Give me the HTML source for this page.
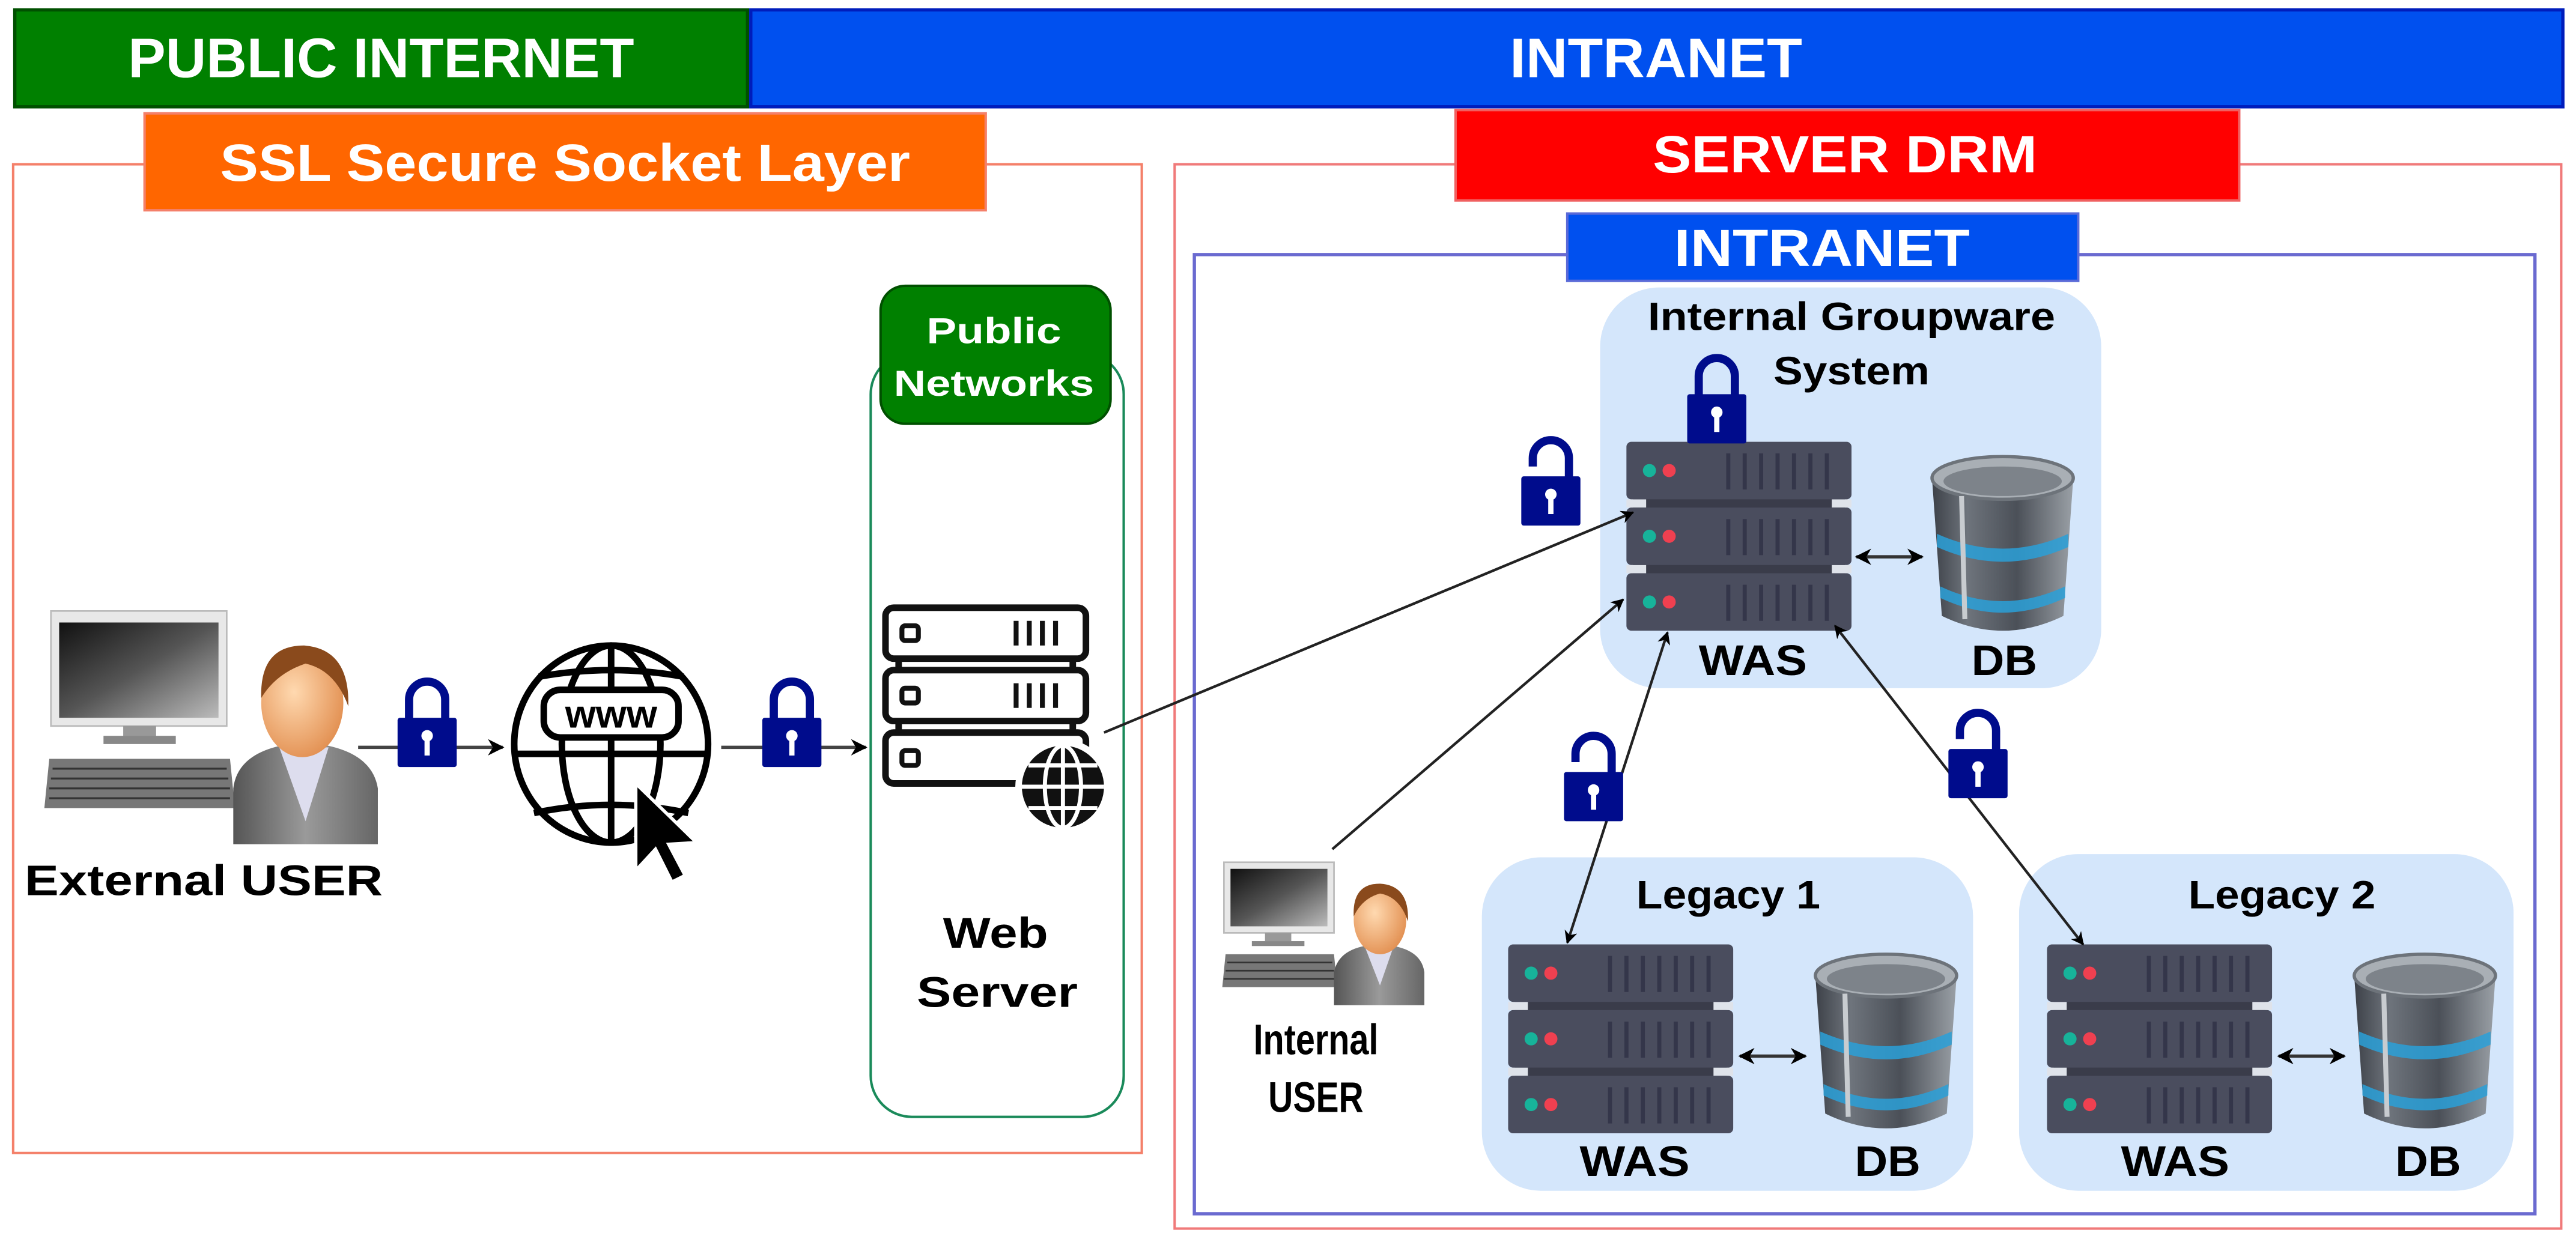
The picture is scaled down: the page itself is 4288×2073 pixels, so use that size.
<!DOCTYPE html>
<html><head><meta charset="utf-8"><style>
html,body{margin:0;padding:0;background:#fff;}
svg{display:block;}
text{font-family:"Liberation Sans",sans-serif;font-weight:bold;}
</style></head><body>
<svg width="4288" height="2073" viewBox="0 0 1568 758" xmlns="http://www.w3.org/2000/svg">
<defs>
  <marker id="ah" viewBox="0 0 10 10" refX="9" refY="5" markerWidth="5" markerHeight="5" orient="auto-start-reverse">
    <path d="M0,0 L10,5 L0,10 L3,5 z" fill="#000"/>
  </marker>
  <linearGradient id="dbg" x1="0" x2="1">
    <stop offset="0" stop-color="#3d4148"/><stop offset="0.25" stop-color="#6e747c"/>
    <stop offset="0.6" stop-color="#4b5058"/><stop offset="1" stop-color="#9aa0a6"/>
  </linearGradient>
  <linearGradient id="mon" x1="0" y1="0" x2="1" y2="1">
    <stop offset="0" stop-color="#111"/><stop offset="0.5" stop-color="#555"/><stop offset="1" stop-color="#bbb"/>
  </linearGradient>
  <linearGradient id="suit" x1="0" x2="1">
    <stop offset="0" stop-color="#555"/><stop offset="0.5" stop-color="#9a9a9a"/><stop offset="1" stop-color="#666"/>
  </linearGradient>
  <radialGradient id="face" cx="0.4" cy="0.4" r="0.7">
    <stop offset="0" stop-color="#ffd9b0"/><stop offset="1" stop-color="#e08a4a"/>
  </radialGradient>
  <g id="unit">
    <rect x="0" y="0" width="137" height="35" rx="3" fill="#4a4d5e"/>
    <circle cx="14" cy="17.5" r="4" fill="#17b39a"/>
    <circle cx="26" cy="17.5" r="4" fill="#ef4050"/>
    <g stroke="#34364a" stroke-width="2.5">
      <line x1="62" y1="7" x2="62" y2="29"/><line x1="72" y1="7" x2="72" y2="29"/>
      <line x1="82" y1="7" x2="82" y2="29"/><line x1="92" y1="7" x2="92" y2="29"/>
      <line x1="102" y1="7" x2="102" y2="29"/><line x1="112" y1="7" x2="112" y2="29"/>
      <line x1="122" y1="7" x2="122" y2="29"/>
    </g>
  </g>
  <g id="srv">
    <rect x="4" y="33" width="129" height="9" fill="#3a3c4a"/>
    <rect x="4" y="73" width="129" height="9" fill="#3a3c4a"/>
    <rect x="0" y="35" width="12" height="5" fill="#dfe3ea"/><rect x="125" y="35" width="12" height="5" fill="#dfe3ea"/>
    <rect x="0" y="75" width="12" height="5" fill="#dfe3ea"/><rect x="125" y="75" width="12" height="5" fill="#dfe3ea"/>
    <use href="#unit"/>
    <use href="#unit" y="40"/>
    <use href="#unit" y="80"/>
  </g>
  <g id="db">
    <path d="M2,14 L8,98 Q45,116 82,98 L88,14 Z" fill="url(#dbg)"/>
    <ellipse cx="45" cy="14" rx="43" ry="13" fill="#a9afb5" stroke="#6d737a" stroke-width="2"/>
    <ellipse cx="45" cy="16" rx="36" ry="9" fill="#7d838a"/>
    <path d="M5,48 Q45,66 85,48 L85,56 Q45,74 5,56 Z" fill="#2aa0d8" opacity="0.85"/>
    <path d="M7,80 Q45,98 83,80 L83,87 Q45,105 7,87 Z" fill="#2aa0d8" opacity="0.85"/>
    <line x1="20" y1="25" x2="22" y2="100" stroke="#c8ccd0" stroke-width="3"/>
  </g>
  <g id="lockC">
    <path d="M-11,2 V-11 A11 11 0 0 1 11 -11 V2" fill="none" stroke="#000c8c" stroke-width="5"/>
    <rect x="-18" y="0" width="36" height="30" rx="1.5" fill="#000c8c"/>
    <circle cx="0" cy="11" r="3.5" fill="#fff"/><rect x="-1.6" y="11" width="3.2" height="12" fill="#fff"/>
  </g>
  <g id="lockO">
    <path d="M-11,-6 V-11 A11 11 0 0 1 11 -11 V2" fill="none" stroke="#000c8c" stroke-width="5"/>
    <rect x="-18" y="0" width="36" height="30" rx="1.5" fill="#000c8c"/>
    <circle cx="0" cy="11" r="3.5" fill="#fff"/><rect x="-1.6" y="11" width="3.2" height="12" fill="#fff"/>
  </g>
</defs>

<!-- top bars -->
<rect x="9" y="6" width="446" height="59" fill="#008000" stroke="#005000" stroke-width="2"/>
<text x="232" y="47" font-size="34" fill="#fff" text-anchor="middle" textLength="308" lengthAdjust="spacingAndGlyphs">PUBLIC INTERNET</text>
<rect x="457" y="6" width="1103" height="59" fill="#0050ef" stroke="#001dbc" stroke-width="2"/>
<text x="1008" y="47" font-size="34" fill="#fff" text-anchor="middle" textLength="178" lengthAdjust="spacingAndGlyphs">INTRANET</text>

<!-- containers -->
<rect x="8" y="100" width="687" height="602" fill="none" stroke="#f4806a" stroke-width="1.5"/>
<rect x="715" y="100" width="844" height="648" fill="none" stroke="#f07a7a" stroke-width="1.5"/>
<rect x="88" y="69" width="512" height="59" fill="#ff6600" stroke="#f4806a" stroke-width="1.5"/>
<text x="344" y="110" font-size="32" fill="#fff" text-anchor="middle" textLength="420" lengthAdjust="spacingAndGlyphs">SSL Secure Socket Layer</text>
<rect x="886" y="67" width="477" height="55" fill="#ff0000" stroke="#f06060" stroke-width="1.5"/>
<text x="1123" y="105" font-size="32" fill="#fff" text-anchor="middle" textLength="234" lengthAdjust="spacingAndGlyphs">SERVER DRM</text>
<rect x="727" y="155" width="816" height="584" fill="none" stroke="#6a6ad0" stroke-width="2"/>
<rect x="954" y="130" width="311" height="41" fill="#0050ef" stroke="#5a6ad8" stroke-width="1.5"/>
<text x="1109" y="162" font-size="32" fill="#fff" text-anchor="middle" textLength="180" lengthAdjust="spacingAndGlyphs">INTRANET</text>

<!-- public networks -->
<rect x="530" y="215" width="154" height="465" rx="25" fill="none" stroke="#1a8a5a" stroke-width="1.5"/>
<rect x="536" y="174" width="140" height="84" rx="15" fill="#008000" stroke="#005000" stroke-width="1.5"/>
<text x="605" y="209" font-size="22" fill="#fff" text-anchor="middle" textLength="82" lengthAdjust="spacingAndGlyphs">Public</text>
<text x="605" y="241" font-size="22" fill="#fff" text-anchor="middle" textLength="122" lengthAdjust="spacingAndGlyphs">Networks</text>

<!-- web server icon -->
<g fill="#fff" stroke="#111" stroke-width="4">
  <rect x="539" y="370" width="122" height="31" rx="5"/>
  <rect x="539" y="408" width="122" height="31" rx="5"/>
  <rect x="539" y="446" width="122" height="31" rx="5"/>
</g>
<g fill="#111">
  <rect x="549" y="381" width="10" height="9" rx="2" fill="none" stroke="#111" stroke-width="3"/>
  <rect x="549" y="419" width="10" height="9" rx="2" fill="none" stroke="#111" stroke-width="3"/>
  <rect x="549" y="457" width="10" height="9" rx="2" fill="none" stroke="#111" stroke-width="3"/>
  <rect x="617" y="378" width="3" height="15"/><rect x="625" y="378" width="3" height="15"/><rect x="633" y="378" width="3" height="15"/><rect x="641" y="378" width="3" height="15"/>
  <rect x="617" y="416" width="3" height="15"/><rect x="625" y="416" width="3" height="15"/><rect x="633" y="416" width="3" height="15"/><rect x="641" y="416" width="3" height="15"/>
  <rect x="545" y="401" width="4" height="7"/><rect x="651" y="401" width="4" height="7"/>
  <rect x="545" y="439" width="4" height="7"/><rect x="651" y="439" width="4" height="7"/>
</g>
<circle cx="647" cy="479" r="29" fill="#fff"/>
<circle cx="647" cy="479" r="25" fill="#111"/>
<g stroke="#fff" stroke-width="2.5" fill="none">
  <ellipse cx="647" cy="479" rx="11" ry="25"/>
  <line x1="647" y1="454" x2="647" y2="504"/>
  <line x1="622" y1="479" x2="672" y2="479"/>
  <line x1="626" y1="466" x2="668" y2="466"/>
  <line x1="626" y1="492" x2="668" y2="492"/>
</g>
<text x="606" y="577" font-size="26" fill="#000" text-anchor="middle" textLength="64" lengthAdjust="spacingAndGlyphs">Web</text>
<text x="607" y="613" font-size="26" fill="#000" text-anchor="middle" textLength="98" lengthAdjust="spacingAndGlyphs">Server</text>

<!-- external user -->
<rect x="31" y="372" width="107" height="70" fill="#e8e8e8" stroke="#bbb"/>
<rect x="36" y="379" width="97" height="58" fill="url(#mon)"/>
<rect x="75" y="442" width="20" height="7" fill="#999"/>
<rect x="63" y="448" width="44" height="5" fill="#888"/>
<path d="M30,462 L140,462 L143,492 L27,492 Z" fill="#777"/>
<g stroke="#333" stroke-width="1.2"><line x1="32" y1="468" x2="138" y2="468"/><line x1="31" y1="474" x2="139" y2="474"/><line x1="30" y1="480" x2="140" y2="480"/><line x1="30" y1="486" x2="140" y2="486"/></g>
<path d="M142,514 L142,480 Q145,455 185,452 Q226,455 230,480 L230,514 Z" fill="url(#suit)"/>
<path d="M170,455 L186,500 L200,455 Z" fill="#dde"/>
<ellipse cx="184" cy="428" rx="25" ry="33" fill="url(#face)"/>
<path d="M159,425 Q158,393 185,393 Q213,395 212,430 Q204,408 186,404 Q168,410 159,425 Z" fill="#8a4a1c"/>
<text x="124" y="545" font-size="26" fill="#000" text-anchor="middle" textLength="218" lengthAdjust="spacingAndGlyphs">External USER</text>

<!-- ext arrows -->
<line x1="218" y1="455" x2="306" y2="455" stroke="#444" stroke-width="2" marker-end="url(#ah)"/>
<line x1="439" y1="455" x2="527" y2="455" stroke="#444" stroke-width="2" marker-end="url(#ah)"/>
<use href="#lockC" x="260" y="437"/>
<use href="#lockC" x="482" y="437"/>

<!-- www globe -->
<g fill="none" stroke="#000" stroke-width="4">
  <ellipse cx="372" cy="453" rx="59" ry="60"/>
  <ellipse cx="372" cy="453" rx="30" ry="60"/>
  <line x1="372" y1="393" x2="372" y2="513"/>
  <line x1="314" y1="459" x2="430" y2="459"/>
  <path d="M328,412 Q372,404 416,412"/>
  <path d="M325,495 Q372,485 419,495"/>
</g>
<rect x="331" y="420" width="82" height="29" rx="10" fill="#fff" stroke="#000" stroke-width="4"/>
<text x="372" y="443" font-size="24" fill="#000" text-anchor="middle" textLength="56" lengthAdjust="spacingAndGlyphs">www</text>
<path d="M387,477 L387,530 L399,517 L409,537 L417,533 L407,514 L424,513 Z" fill="#000" stroke="#fff" stroke-width="2"/>

<!-- groupware box -->
<rect x="974" y="175" width="305" height="244" rx="36" fill="#d4e6fb"/>
<text x="1127" y="201" font-size="24" fill="#000" text-anchor="middle" textLength="248" lengthAdjust="spacingAndGlyphs">Internal Groupware</text>
<text x="1127" y="234" font-size="24" fill="#000" text-anchor="middle" textLength="95" lengthAdjust="spacingAndGlyphs">System</text>
<use href="#srv" x="990" y="269"/>
<use href="#db" x="1174" y="277"/>
<line x1="1130" y1="339" x2="1170" y2="339" stroke="#333" stroke-width="2" marker-start="url(#ah)" marker-end="url(#ah)"/>
<text x="1067" y="411" font-size="26" fill="#000" text-anchor="middle" textLength="66" lengthAdjust="spacingAndGlyphs">WAS</text>
<text x="1220" y="411" font-size="26" fill="#000" text-anchor="middle" textLength="40" lengthAdjust="spacingAndGlyphs">DB</text>
<use href="#lockC" x="1045" y="240"/>
<use href="#lockO" x="944" y="290"/>

<!-- connectors to groupware -->
<line x1="672" y1="446" x2="994" y2="312" stroke="#222" stroke-width="1.6" marker-end="url(#ah)"/>
<line x1="811" y1="517" x2="988" y2="365" stroke="#222" stroke-width="1.6" marker-end="url(#ah)"/>

<!-- legacy boxes -->
<rect x="902" y="522" width="299" height="203" rx="36" fill="#d4e6fb"/>
<rect x="1229" y="520" width="301" height="205" rx="36" fill="#d4e6fb"/>
<text x="1052" y="553" font-size="24" fill="#000" text-anchor="middle" textLength="112" lengthAdjust="spacingAndGlyphs">Legacy 1</text>
<text x="1389" y="553" font-size="24" fill="#000" text-anchor="middle" textLength="114" lengthAdjust="spacingAndGlyphs">Legacy 2</text>
<use href="#srv" x="918" y="575"/>
<use href="#srv" x="1246" y="575"/>
<use href="#db" x="1103" y="580"/>
<use href="#db" x="1431" y="580"/>
<line x1="1059" y1="643" x2="1099" y2="643" stroke="#333" stroke-width="2" marker-start="url(#ah)" marker-end="url(#ah)"/>
<line x1="1387" y1="643" x2="1427" y2="643" stroke="#333" stroke-width="2" marker-start="url(#ah)" marker-end="url(#ah)"/>
<text x="995" y="716" font-size="26" fill="#000" text-anchor="middle" textLength="67" lengthAdjust="spacingAndGlyphs">WAS</text>
<text x="1149" y="716" font-size="26" fill="#000" text-anchor="middle" textLength="40" lengthAdjust="spacingAndGlyphs">DB</text>
<text x="1324" y="716" font-size="26" fill="#000" text-anchor="middle" textLength="66" lengthAdjust="spacingAndGlyphs">WAS</text>
<text x="1478" y="716" font-size="26" fill="#000" text-anchor="middle" textLength="40" lengthAdjust="spacingAndGlyphs">DB</text>

<!-- legacy connectors -->
<line x1="1015" y1="385" x2="954" y2="574" stroke="#222" stroke-width="1.6" marker-start="url(#ah)" marker-end="url(#ah)"/>
<line x1="1117" y1="381" x2="1268" y2="575" stroke="#222" stroke-width="1.6" marker-start="url(#ah)" marker-end="url(#ah)"/>
<use href="#lockO" x="970" y="470"/>
<use href="#lockO" x="1204" y="456"/>

<!-- internal user -->
<rect x="745" y="525" width="67" height="43" fill="#e8e8e8" stroke="#bbb"/>
<rect x="749" y="529" width="59" height="35" fill="url(#mon)"/>
<rect x="770" y="568" width="16" height="5" fill="#999"/>
<rect x="762" y="573" width="32" height="3" fill="#888"/>
<path d="M746,581 L812,581 L814,601 L744,601 Z" fill="#777"/>
<g stroke="#333" stroke-width="1"><line x1="747" y1="586" x2="811" y2="586"/><line x1="746" y1="591" x2="812" y2="591"/><line x1="745" y1="596" x2="813" y2="596"/></g>
<path d="M812,612 L812,592 Q815,576 839,575 Q865,576 867,592 L867,612 Z" fill="url(#suit)"/>
<path d="M831,577 L840,600 L848,577 Z" fill="#dde"/>
<ellipse cx="840" cy="560" rx="16" ry="21" fill="url(#face)"/>
<path d="M824,558 Q823,538 840,538 Q858,539 857,561 Q852,546 840,544 Q829,547 824,558 Z" fill="#8a4a1c"/>
<text x="801" y="642" font-size="26" fill="#000" text-anchor="middle" textLength="76" lengthAdjust="spacingAndGlyphs">Internal</text>
<text x="801" y="677" font-size="26" fill="#000" text-anchor="middle" textLength="58" lengthAdjust="spacingAndGlyphs">USER</text>
</svg>
</body></html>
